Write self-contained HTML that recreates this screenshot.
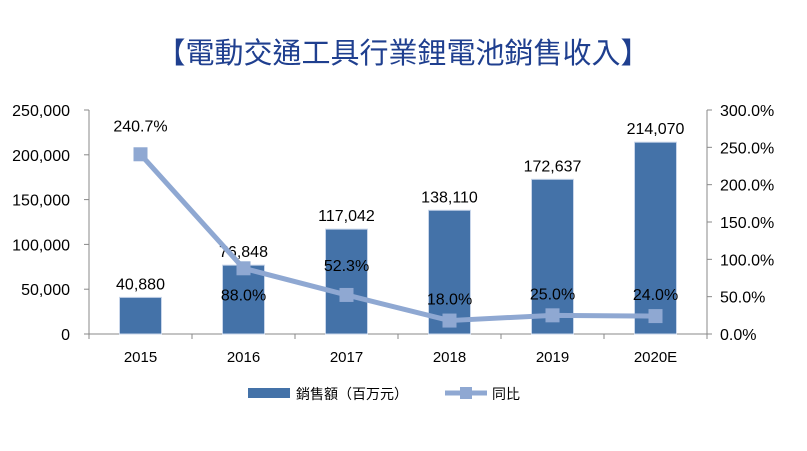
<!DOCTYPE html>
<html><head><meta charset="utf-8"><style>
body{margin:0;background:#fff;width:807px;height:446px;overflow:hidden}
text{font-family:"Liberation Sans","Noto Sans CJK TC",sans-serif}
</style></head><body>
<svg width="807" height="446" xmlns="http://www.w3.org/2000/svg">
<text x="403" y="63" text-anchor="middle" font-size="29" fill="#1f3f8f">【電動交通工具行業鋰電池銷售收入】</text>
<g id="g"></g>
</svg>
<script>
const categories=["2015","2016","2017","2018","2019","2020E"];
const sales=[40880,76848,117042,138110,172637,214070];
const growth=[240.7,88.0,52.3,18.0,25.0,24.0];
const leftTicks=[0,50000,100000,150000,200000,250000];
const rightTicks=[0,50,100,150,200,250,300];
const X0=89,X1=707,Y0=334,Y1=110;
const bw=(X1-X0)/categories.length;
const xc=i=>X0+bw*(i+0.5);
const yl=v=>Y0-(v/250000)*(Y0-Y1);
const yr=v=>Y0-(v/300)*(Y0-Y1);
const g=document.getElementById('g');
const NS="http://www.w3.org/2000/svg";
function mk(t,a,txt){const e=document.createElementNS(NS,t);for(const k in a)e.setAttribute(k,a[k]);if(txt!=null)e.textContent=txt;g.appendChild(e);return e;}
const fmt=v=>v.toLocaleString('en-US');
let e=mk('line',{x1:X0,y1:Y1,x2:X0,y2:Y0,stroke:'#888'});
e=mk('line',{x1:X1,y1:Y1,x2:X1,y2:Y0,stroke:'#888'});
e=mk('line',{x1:X0,y1:Y0,x2:X1,y2:Y0,stroke:'#888'});
leftTicks.forEach(v=>{const y=yl(v);
 mk('line',{x1:X0-5,y1:y,x2:X0,y2:y,stroke:'#888'});
 const t=mk('text',{x:70,y:y+6,'text-anchor':'end','font-size':16,fill:'#000'},fmt(v));
 });
rightTicks.forEach(v=>{const y=yr(v);
 mk('line',{x1:X1,y1:y,x2:X1+5,y2:y,stroke:'#888'});
 const t=mk('text',{x:720,y:y+6,'font-size':16,fill:'#000'},v.toFixed(1)+'%');
 });
for(let i=0;i<=categories.length;i++){mk('line',{x1:X0+bw*i,y1:Y0,x2:X0+bw*i,y2:Y0+5,stroke:'#888'});}
categories.forEach((c,i)=>{const t=mk('text',{x:xc(i),y:362,'text-anchor':'middle','font-size':15,fill:'#000'},c);
 });
sales.forEach((v,i)=>{const r=mk('rect',{x:xc(i)-21,y:yl(v),width:42,height:Y0-yl(v),fill:'#4472a8',stroke:'#c9d6ea','stroke-width':1});
 
 const t=mk('text',{x:xc(i),y:yl(v)-8,'text-anchor':'middle','font-size':16,fill:'#000'},fmt(v));
 });
const pts=growth.map((v,i)=>xc(i)+','+yr(v)).join(' ');
e=mk('polyline',{points:pts,fill:'none',stroke:'#8fa8d2','stroke-width':5,'stroke-linejoin':'round'});

growth.forEach((v,i)=>{const m=mk('rect',{x:xc(i)-7,y:yr(v)-7,width:14,height:14,fill:'#8fa8d2'});
 
 const ly=i===0?yr(v)-23:(i===2?yr(v)-24:yr(v)+34);
 const t=mk('text',{x:xc(i),y:i===1?yr(v)+32:(i>=3?yr(v)-16:ly),'text-anchor':'middle','font-size':16,fill:'#000'},v.toFixed(1)+'%');
 });
e=mk('rect',{x:248,y:388,width:42,height:10,fill:'#4472a8'});
e=mk('text',{x:296,y:399,'font-size':14,fill:'#000'},'銷售額（百万元）');
e=mk('line',{x1:445,y1:393,x2:487,y2:393,stroke:'#8fa8d2','stroke-width':5});
e=mk('rect',{x:460,y:387,width:12,height:12,fill:'#8fa8d2'});
e=mk('text',{x:492,y:399,'font-size':14,fill:'#000'},'同比');
</script>
</body></html>
